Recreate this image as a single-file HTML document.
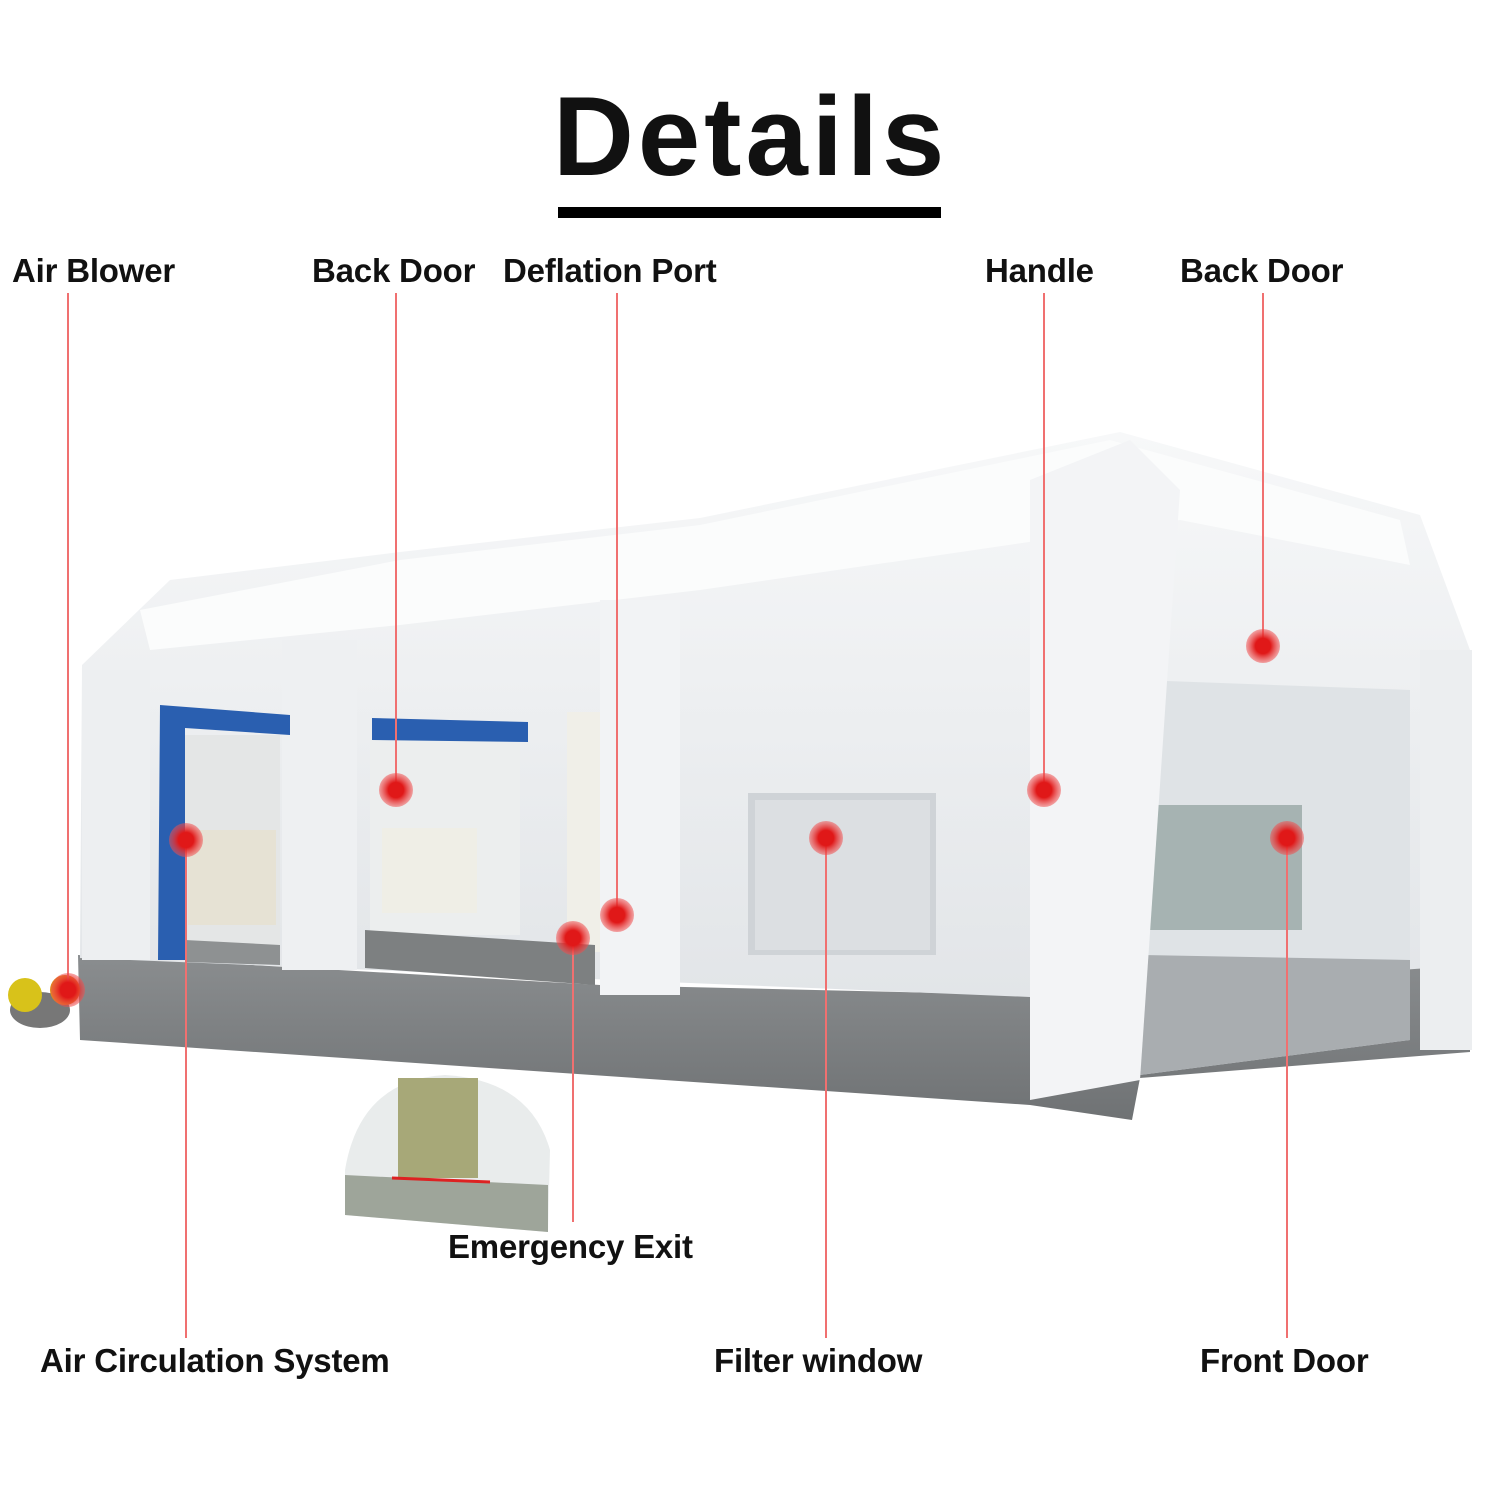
<!DOCTYPE html>
<html><head><meta charset="utf-8"><style>
html,body{margin:0;padding:0;background:#fff}
body{width:1501px;height:1501px;position:relative;overflow:hidden;font-family:"Liberation Sans",sans-serif}
.t{position:absolute;font-size:33px;font-weight:bold;color:#111;white-space:nowrap;letter-spacing:-0.2px}
</style></head><body>
<svg width="1501" height="1501" style="position:absolute;left:0;top:0">
<defs>
<linearGradient id="g1" x1="0" y1="0" x2="0" y2="1"><stop offset="0" stop-color="#f7f8f9"/><stop offset="1" stop-color="#e2e5e8"/></linearGradient>
<linearGradient id="gb" x1="0" y1="0" x2="0" y2="1"><stop offset="0" stop-color="#8a8d8f"/><stop offset="1" stop-color="#6f7274"/></linearGradient>
<radialGradient id="dot"><stop offset="0.45" stop-color="#e01818"/><stop offset="1" stop-color="#f05050" stop-opacity="0.5"/></radialGradient>
</defs>
<polygon points="78,955 600,985 1030,995 1470,962 1470,1052 1140,1078 1132,1120 1030,1105 80,1040" fill="url(#gb)"/>
<polygon points="82,665 170,580 400,552 700,518 1120,432 1420,515 1470,650 1470,965 1030,997 80,958" fill="url(#g1)"/>
<polygon points="140,610 400,560 700,525 1110,440 1400,520 1410,565 1180,520 700,590 400,625 150,650" fill="#fbfcfc"/>
<polygon points="1140,680 1410,690 1410,1040 1140,1075" fill="#dfe3e6"/>
<polygon points="1140,955 1410,960 1410,1040 1140,1075" fill="#a9adb0"/>
<rect x="1150" y="805" width="152" height="125" fill="#a6b3b2"/>
<polygon points="1030,480 1130,440 1180,490 1140,1080 1030,1100" fill="#f3f4f6"/>
<rect x="1420" y="650" width="52" height="400" fill="#eceef0"/>
<rect x="600" y="600" width="80" height="395" fill="#f2f3f5"/>
<rect x="282" y="640" width="75" height="330" fill="#eef0f2"/>
<rect x="82" y="670" width="68" height="290" fill="#edeff1"/>
<rect x="185" y="735" width="95" height="225" fill="#e4e6e6"/>
<rect x="188" y="830" width="88" height="95" fill="#e6e2d4"/>
<rect x="370" y="740" width="150" height="195" fill="#eceeee"/>
<rect x="382" y="828" width="95" height="85" fill="#efeee6"/>
<rect x="567" y="712" width="33" height="240" fill="#f0efe8"/>
<polygon points="185,940 280,945 280,965 185,962" fill="#8e9192"/>
<polygon points="365,930 595,945 595,985 365,968" fill="#7d8081"/>
<polygon points="160,705 290,715 290,735 185,728 185,960 158,960" fill="#2a5fb0"/>
<polygon points="372,718 528,722 528,742 372,740" fill="#2a5fb0"/>
<rect x="748" y="793" width="188" height="162" fill="#cfd3d7"/>
<rect x="755" y="800" width="175" height="150" fill="#dcdfe2"/>
<ellipse cx="40" cy="1010" rx="30" ry="18" fill="#777"/>
<circle cx="25" cy="995" r="17" fill="#d8c21a"/>
<circle cx="65" cy="990" r="15" fill="#e08a1a"/>
<path d="M345,1170 Q360,1080 445,1075 Q530,1080 550,1150 L548,1232 L345,1215 Z" fill="#e9ecec"/>
<rect x="398" y="1078" width="80" height="100" fill="#a7a878"/>
<path d="M345,1175 L548,1185 L548,1232 L345,1215 Z" fill="#9ea59a"/>
<line x1="392" y1="1178" x2="490" y2="1182" stroke="#d22" stroke-width="3"/>
<g stroke="#f07070" stroke-width="2">
<line x1="68" y1="293" x2="68" y2="990"/>
<line x1="396" y1="293" x2="396" y2="790"/>
<line x1="617" y1="293" x2="617" y2="915"/>
<line x1="1044" y1="293" x2="1044" y2="790"/>
<line x1="1263" y1="293" x2="1263" y2="646"/>
<line x1="186" y1="840" x2="186" y2="1338"/>
<line x1="573" y1="938" x2="573" y2="1222"/>
<line x1="826" y1="838" x2="826" y2="1338"/>
<line x1="1287" y1="838" x2="1287" y2="1338"/>
</g>
<g fill="url(#dot)">
<circle cx="68" cy="990" r="17"/><circle cx="396" cy="790" r="17"/><circle cx="617" cy="915" r="17"/>
<circle cx="1044" cy="790" r="17"/><circle cx="1263" cy="646" r="17"/><circle cx="186" cy="840" r="17"/>
<circle cx="573" cy="938" r="17"/><circle cx="826" cy="838" r="17"/><circle cx="1287" cy="838" r="17"/>
</g>
<rect x="558" y="207" width="383" height="11" fill="#000"/>
</svg>
<div class="t" style="left:553px;top:72px;font-size:112px;font-weight:900;letter-spacing:4px">Details</div>
<div class="t" style="left:12px;top:252px">Air Blower</div>
<div class="t" style="left:312px;top:252px">Back Door</div>
<div class="t" style="left:503px;top:252px">Deflation Port</div>
<div class="t" style="left:985px;top:252px">Handle</div>
<div class="t" style="left:1180px;top:252px">Back Door</div>
<div class="t" style="left:448px;top:1228px">Emergency Exit</div>
<div class="t" style="left:40px;top:1342px">Air Circulation System</div>
<div class="t" style="left:714px;top:1342px">Filter window</div>
<div class="t" style="left:1200px;top:1342px">Front Door</div>
</body></html>
